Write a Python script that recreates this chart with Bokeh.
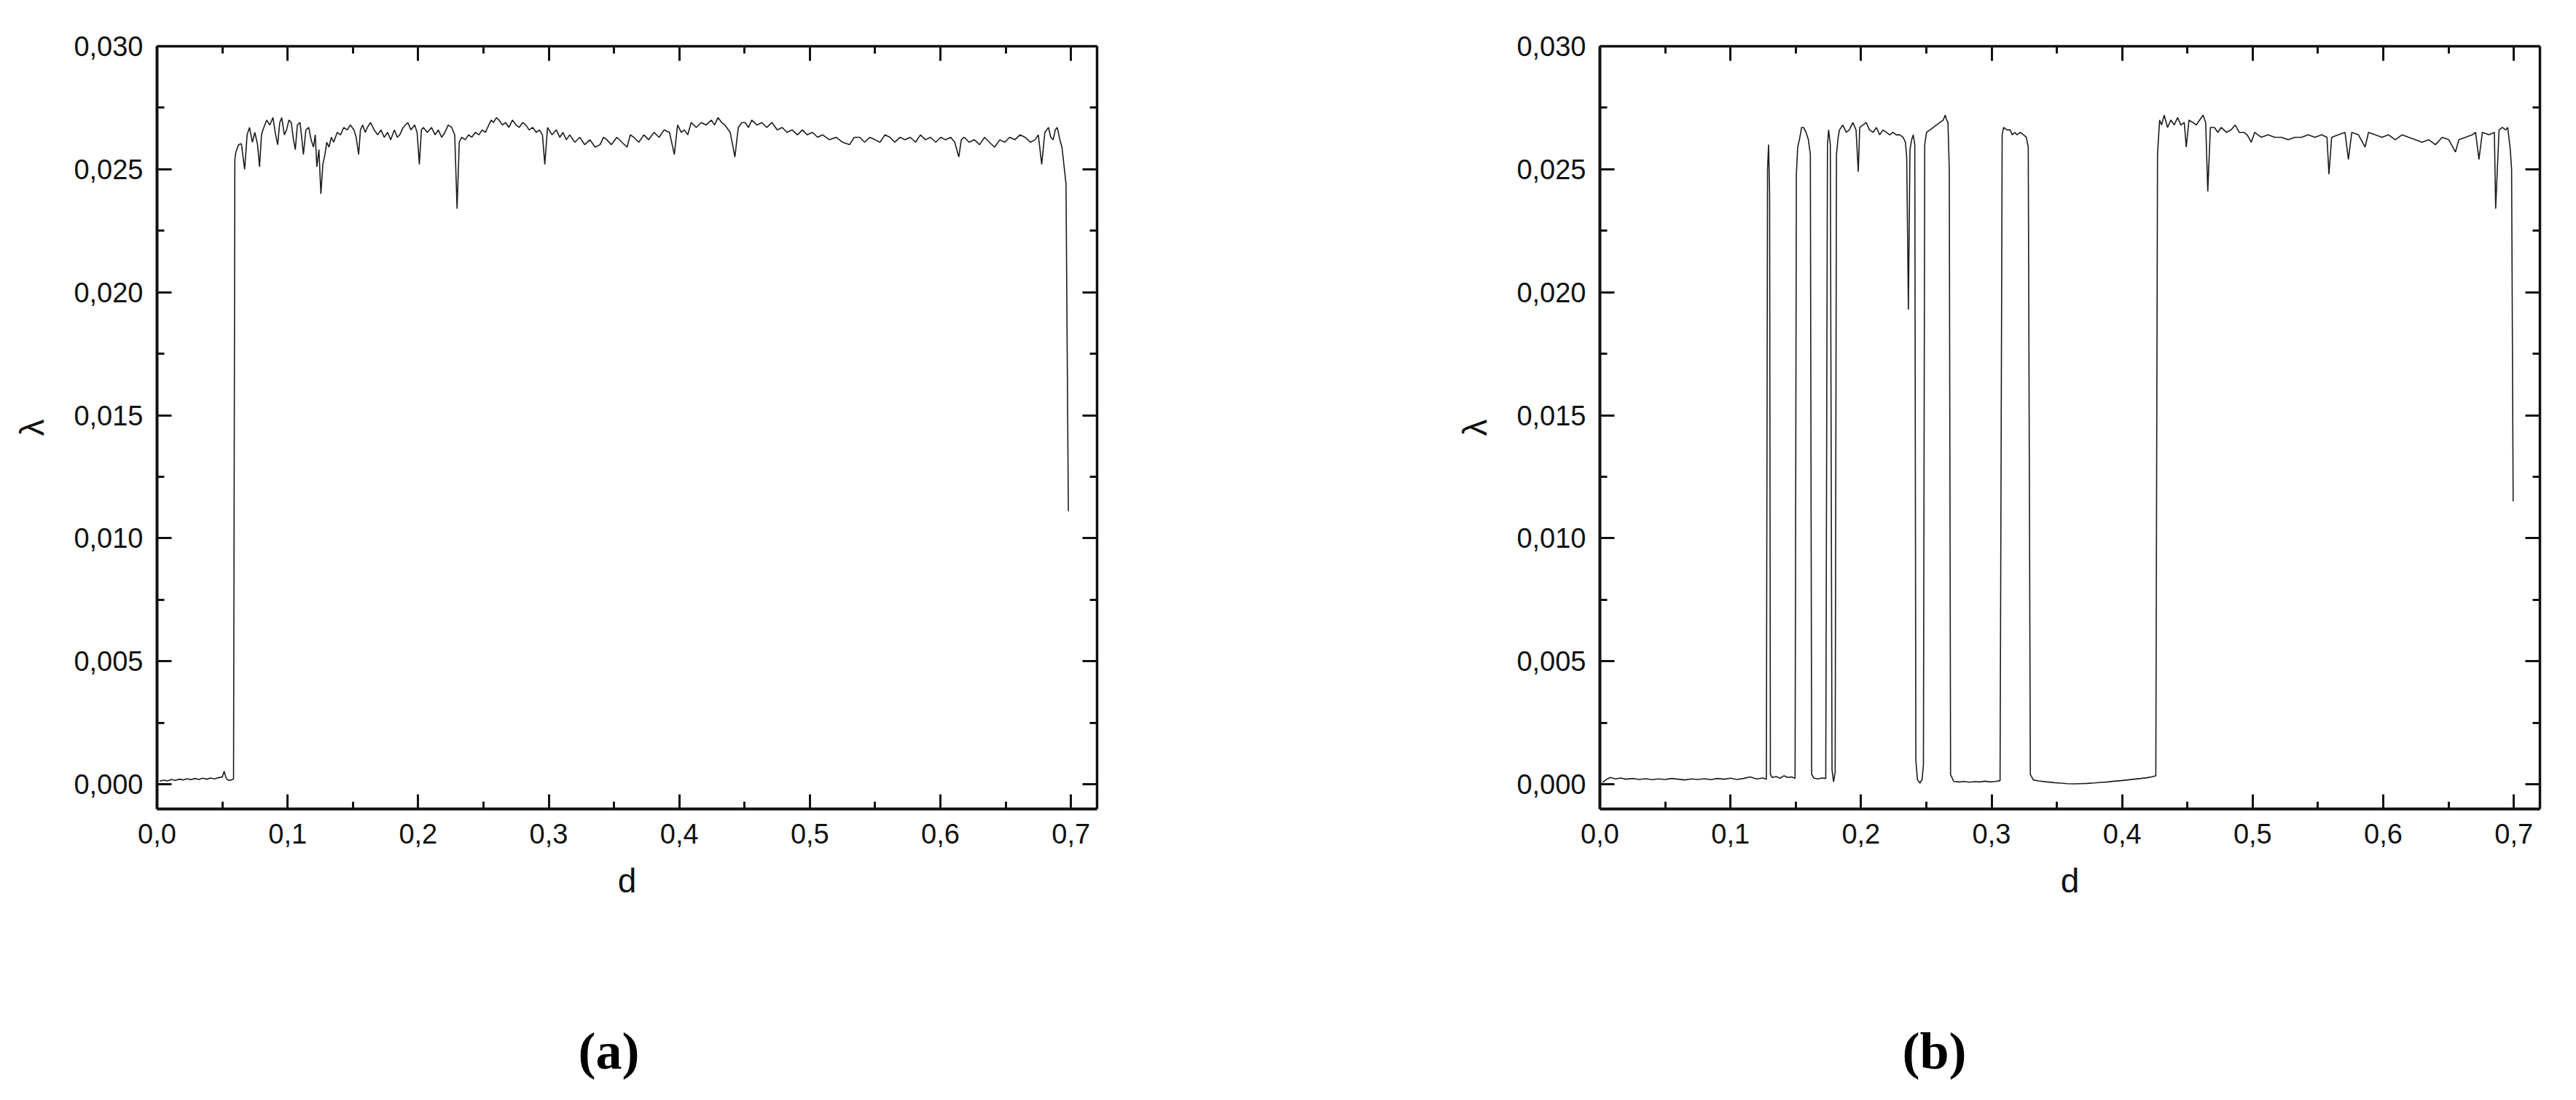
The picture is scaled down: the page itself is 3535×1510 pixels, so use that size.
from bokeh.plotting import figure
from bokeh.models import Range1d, FixedTicker, LinearAxis, Title, CustomJSTickFormatter
from bokeh.layouts import row, column
from bokeh.embed import file_html
from bokeh.resources import INLINE
from bokeh.core.validation import silence
from bokeh.core.validation.warnings import MISSING_RENDERERS

silence(MISSING_RENDERERS, True)

# ---------------- data ----------------
x_ticks = [0.0, 0.1, 0.2, 0.3, 0.4, 0.5, 0.6, 0.7]
x_tick_labels = ["0,0", "0,1", "0,2", "0,3", "0,4", "0,5", "0,6", "0,7"]
x_minor = [0.05, 0.15, 0.25, 0.35, 0.45, 0.55, 0.65]
y_ticks = [0.0, 0.005, 0.01, 0.015, 0.02, 0.025, 0.03]
y_tick_labels = ["0,000", "0,005", "0,010", "0,015", "0,020", "0,025", "0,030"]
y_minor = [0.0025, 0.0075, 0.0125, 0.0175, 0.0225, 0.0275]
x_label = "d"
y_label = "λ"
captions = ["(a)", "(b)"]

# panel (a): (d, lambda)
curve_a = [
    (0.002, 0.00013), (0.005, 0.00017), (0.008, 0.00014), (0.011, 0.00020), (0.014, 0.00016),
    (0.017, 0.00021), (0.020, 0.00018), (0.023, 0.00023), (0.026, 0.00019), (0.029, 0.00024),
    (0.032, 0.00020), (0.035, 0.00025), (0.038, 0.00021), (0.041, 0.00026), (0.044, 0.00022),
    (0.047, 0.00027), (0.050, 0.00030), (0.0514, 0.00053), (0.053, 0.00024), (0.055, 0.00016),
    (0.057, 0.00018), (0.0586, 0.00022),
    (0.0596, 0.02540), (0.0604, 0.02570), (0.0625, 0.02600), (0.0646, 0.02604), (0.0671, 0.02500),
    (0.0690, 0.02640), (0.0708, 0.02670), (0.0730, 0.02610), (0.0749, 0.02650), (0.0770, 0.02600),
    (0.0785, 0.02510), (0.0800, 0.02640), (0.0811, 0.02660), (0.0840, 0.02700), (0.0863, 0.02680),
    (0.0888, 0.02710), (0.0905, 0.02650), (0.0924, 0.02600), (0.0940, 0.02690), (0.0955, 0.02710),
    (0.0975, 0.02640), (0.0992, 0.02660), (0.1010, 0.02700), (0.1028, 0.02690), (0.1045, 0.02620),
    (0.1059, 0.02580), (0.1075, 0.02680), (0.1095, 0.02690), (0.1110, 0.02620), (0.1121, 0.02560),
    (0.1140, 0.02660), (0.1162, 0.02670), (0.1180, 0.02620), (0.1198, 0.02590), (0.1212, 0.02640),
    (0.1224, 0.02510), (0.1240, 0.02580), (0.1255, 0.02400), (0.1270, 0.02520), (0.1286, 0.02560),
    (0.1300, 0.02610), (0.1317, 0.02590), (0.1335, 0.02630), (0.1353, 0.02610), (0.1380, 0.02650),
    (0.1405, 0.02640), (0.1430, 0.02670), (0.1457, 0.02660), (0.1480, 0.02680), (0.1508, 0.02660),
    (0.1525, 0.02630), (0.1544, 0.02560), (0.1558, 0.02660), (0.1575, 0.02680), (0.1595, 0.02650),
    (0.1611, 0.02670), (0.1635, 0.02690), (0.1663, 0.02660), (0.1690, 0.02640), (0.1715, 0.02660),
    (0.1740, 0.02630), (0.1766, 0.02650), (0.1790, 0.02620), (0.1818, 0.02660), (0.1840, 0.02630),
    (0.1859, 0.02640), (0.1885, 0.02670), (0.1921, 0.02690), (0.1945, 0.02660), (0.1973, 0.02680),
    (0.1992, 0.02650), (0.2009, 0.02520), (0.2025, 0.02660), (0.2040, 0.02670), (0.2070, 0.02650),
    (0.2102, 0.02670), (0.2130, 0.02640), (0.2154, 0.02660), (0.2180, 0.02630), (0.2205, 0.02650),
    (0.2230, 0.02680), (0.2257, 0.02670), (0.2280, 0.02640), (0.2298, 0.02340), (0.2315, 0.02610),
    (0.2334, 0.02630), (0.2360, 0.02620), (0.2386, 0.02640), (0.2410, 0.02630), (0.2438, 0.02650),
    (0.2465, 0.02640), (0.2490, 0.02660), (0.2515, 0.02650), (0.2541, 0.02680), (0.2560, 0.02700),
    (0.2577, 0.02690), (0.2600, 0.02710), (0.2619, 0.02700), (0.2645, 0.02680), (0.2670, 0.02690),
    (0.2695, 0.02670), (0.2722, 0.02700), (0.2750, 0.02680), (0.2774, 0.02670), (0.2800, 0.02690),
    (0.2825, 0.02680), (0.2850, 0.02660), (0.2877, 0.02670), (0.2905, 0.02650), (0.2929, 0.02660),
    (0.2952, 0.02640), (0.2970, 0.02520), (0.2991, 0.02670), (0.3025, 0.02640), (0.3058, 0.02660),
    (0.3085, 0.02630), (0.3109, 0.02650), (0.3135, 0.02620), (0.3161, 0.02640), (0.3200, 0.02610),
    (0.3238, 0.02630), (0.3275, 0.02600), (0.3316, 0.02620), (0.3355, 0.02590), (0.3393, 0.02600),
    (0.3420, 0.02630), (0.3445, 0.02620), (0.3480, 0.02600), (0.3522, 0.02630), (0.3560, 0.02610),
    (0.3600, 0.02590), (0.3625, 0.02640), (0.3652, 0.02630), (0.3690, 0.02610), (0.3729, 0.02640),
    (0.3765, 0.02620), (0.3807, 0.02650), (0.3845, 0.02630), (0.3884, 0.02660), (0.3925, 0.02650),
    (0.3962, 0.02560), (0.3987, 0.02680), (0.4015, 0.02650), (0.4039, 0.02660), (0.4065, 0.02640),
    (0.4091, 0.02690), (0.4130, 0.02670), (0.4168, 0.02690), (0.4205, 0.02680), (0.4246, 0.02700),
    (0.4270, 0.02680), (0.4297, 0.02710), (0.4325, 0.02690), (0.4349, 0.02680), (0.4390, 0.02650),
    (0.4426, 0.02550), (0.4452, 0.02670), (0.4480, 0.02690), (0.4504, 0.02690), (0.4530, 0.02670),
    (0.4555, 0.02700), (0.4595, 0.02680), (0.4633, 0.02690), (0.4670, 0.02670), (0.4710, 0.02690),
    (0.4750, 0.02660), (0.4788, 0.02670), (0.4825, 0.02650), (0.4865, 0.02660), (0.4905, 0.02640),
    (0.4943, 0.02660), (0.4980, 0.02640), (0.5020, 0.02650), (0.5060, 0.02630), (0.5098, 0.02640),
    (0.5150, 0.02620), (0.5201, 0.02630), (0.5250, 0.02610), (0.5304, 0.02600), (0.5340, 0.02630),
    (0.5382, 0.02630), (0.5420, 0.02610), (0.5459, 0.02630), (0.5500, 0.02620), (0.5537, 0.02610),
    (0.5575, 0.02640), (0.5614, 0.02630), (0.5650, 0.02610), (0.5692, 0.02630), (0.5730, 0.02620),
    (0.5769, 0.02630), (0.5810, 0.02610), (0.5847, 0.02640), (0.5885, 0.02620), (0.5924, 0.02630),
    (0.5965, 0.02610), (0.6002, 0.02630), (0.6040, 0.02620), (0.6079, 0.02630), (0.6110, 0.02610),
    (0.6141, 0.02550), (0.6160, 0.02620), (0.6183, 0.02630), (0.6220, 0.02610), (0.6260, 0.02620),
    (0.6300, 0.02600), (0.6338, 0.02630), (0.6375, 0.02610), (0.6415, 0.02590), (0.6455, 0.02620),
    (0.6493, 0.02610), (0.6530, 0.02630), (0.6570, 0.02620), (0.6610, 0.02640), (0.6648, 0.02630),
    (0.6690, 0.02610), (0.6725, 0.02620), (0.6750, 0.02640), (0.6776, 0.02520), (0.6800, 0.02650),
    (0.6828, 0.02670), (0.6845, 0.02630), (0.6864, 0.02620), (0.6880, 0.02660), (0.6895, 0.02670),
    (0.6915, 0.02620), (0.6931, 0.02590), (0.6950, 0.02500), (0.6962, 0.02440), (0.6980, 0.01110),
]

# panel (b): (d, lambda)
curve_b = [
    (0.002, 0.00008), (0.005, 0.00020), (0.008, 0.00028), (0.012, 0.00022), (0.016, 0.00026),
    (0.020, 0.00021), (0.025, 0.00024), (0.030, 0.00020), (0.035, 0.00023), (0.040, 0.00019),
    (0.045, 0.00022), (0.050, 0.00020), (0.055, 0.00024), (0.060, 0.00021), (0.065, 0.00018),
    (0.070, 0.00022), (0.075, 0.00020), (0.080, 0.00023), (0.085, 0.00019), (0.090, 0.00024),
    (0.095, 0.00021), (0.100, 0.00025), (0.105, 0.00020), (0.110, 0.00024), (0.115, 0.00030),
    (0.120, 0.00022), (0.125, 0.00026), (0.1275, 0.00021),
    (0.1284, 0.02500), (0.1292, 0.02600), (0.1300, 0.02400), (0.1306, 0.00040), (0.1320, 0.00028),
    (0.1350, 0.00032), (0.1380, 0.00025), (0.1410, 0.00035), (0.1440, 0.00028), (0.1470, 0.00030),
    (0.1495, 0.00024),
    (0.1505, 0.02480), (0.1515, 0.02590), (0.1528, 0.02620), (0.1545, 0.02670), (0.1560, 0.02670),
    (0.1579, 0.02650), (0.1597, 0.02620), (0.1612, 0.02560), (0.1622, 0.00040), (0.1640, 0.00025),
    (0.1670, 0.00022), (0.1700, 0.00026), (0.1730, 0.00024),
    (0.1743, 0.02600), (0.1752, 0.02660), (0.1765, 0.02600), (0.1778, 0.00060), (0.1790, 0.00010),
    (0.1802, 0.00050), (0.1812, 0.02560), (0.1825, 0.02630), (0.1835, 0.02660), (0.1860, 0.02680),
    (0.1887, 0.02650), (0.1910, 0.02660), (0.1938, 0.02690), (0.1962, 0.02660), (0.1979, 0.02490),
    (0.1990, 0.02670), (0.2015, 0.02680), (0.2040, 0.02690), (0.2065, 0.02660), (0.2092, 0.02650),
    (0.2118, 0.02670), (0.2143, 0.02640), (0.2168, 0.02660), (0.2194, 0.02650), (0.2220, 0.02640),
    (0.2245, 0.02650), (0.2270, 0.02640), (0.2296, 0.02640), (0.2322, 0.02630), (0.2340, 0.02610),
    (0.2350, 0.02550), (0.2363, 0.01930), (0.2375, 0.02580), (0.2388, 0.02620), (0.2400, 0.02640),
    (0.2412, 0.02600), (0.2420, 0.00100), (0.2432, 0.00020), (0.2451, 0.00005), (0.2468, 0.00020),
    (0.2478, 0.00080),
    (0.2488, 0.02600), (0.2502, 0.02650), (0.2528, 0.02660), (0.2553, 0.02670), (0.2578, 0.02680),
    (0.2604, 0.02690), (0.2630, 0.02700), (0.2645, 0.02720), (0.2656, 0.02700), (0.2666, 0.02690),
    (0.2676, 0.02500), (0.2686, 0.00040), (0.2710, 0.00012), (0.2750, 0.00010), (0.2790, 0.00012),
    (0.2830, 0.00009), (0.2870, 0.00011), (0.2910, 0.00010), (0.2950, 0.00013), (0.2990, 0.00010),
    (0.3030, 0.00012), (0.3065, 0.00015),
    (0.3081, 0.02640), (0.3092, 0.02670), (0.3118, 0.02660), (0.3143, 0.02660), (0.3158, 0.02640),
    (0.3178, 0.02650), (0.3194, 0.02640), (0.3220, 0.02650), (0.3245, 0.02640), (0.3266, 0.02630),
    (0.3281, 0.02590), (0.3297, 0.00040), (0.3320, 0.00018), (0.3360, 0.00014), (0.3425, 0.00010),
    (0.3480, 0.00007), (0.3528, 0.00005), (0.3580, 0.00003), (0.3630, 0.00002), (0.3680, 0.00003),
    (0.3733, 0.00004), (0.3790, 0.00006), (0.3835, 0.00008), (0.3890, 0.00010), (0.3938, 0.00013),
    (0.3990, 0.00015), (0.4040, 0.00018), (0.4090, 0.00021), (0.4143, 0.00024), (0.4190, 0.00027),
    (0.4230, 0.00031), (0.4258, 0.00035),
    (0.4271, 0.02560), (0.4287, 0.02700), (0.4302, 0.02680), (0.4322, 0.02720), (0.4348, 0.02670),
    (0.4373, 0.02700), (0.4399, 0.02680), (0.4425, 0.02710), (0.4450, 0.02680), (0.4476, 0.02690),
    (0.4491, 0.02590), (0.4512, 0.02700), (0.4543, 0.02690), (0.4568, 0.02680), (0.4594, 0.02700),
    (0.4620, 0.02720), (0.4640, 0.02690), (0.4656, 0.02410), (0.4676, 0.02670), (0.4707, 0.02670),
    (0.4733, 0.02650), (0.4758, 0.02670), (0.4799, 0.02650), (0.4835, 0.02660), (0.4866, 0.02680),
    (0.4897, 0.02650), (0.4933, 0.02650), (0.4958, 0.02640), (0.4989, 0.02610), (0.5015, 0.02650),
    (0.5040, 0.02640), (0.5066, 0.02630), (0.5117, 0.02640), (0.5169, 0.02630), (0.5220, 0.02630),
    (0.5272, 0.02620), (0.5323, 0.02630), (0.5374, 0.02630), (0.5425, 0.02640), (0.5477, 0.02630),
    (0.5528, 0.02640), (0.5569, 0.02630), (0.5584, 0.02480), (0.5605, 0.02630), (0.5656, 0.02640),
    (0.5707, 0.02650), (0.5733, 0.02540), (0.5759, 0.02650), (0.5810, 0.02640), (0.5861, 0.02590),
    (0.5887, 0.02650), (0.5938, 0.02640), (0.5990, 0.02630), (0.6041, 0.02640), (0.6092, 0.02620),
    (0.6143, 0.02640), (0.6195, 0.02630), (0.6246, 0.02620), (0.6297, 0.02610), (0.6349, 0.02620),
    (0.6400, 0.02600), (0.6451, 0.02630), (0.6502, 0.02620), (0.6553, 0.02570), (0.6579, 0.02620),
    (0.6630, 0.02630), (0.6682, 0.02640), (0.6707, 0.02650), (0.6733, 0.02540), (0.6759, 0.02650),
    (0.6810, 0.02640), (0.6851, 0.02650), (0.6861, 0.02340), (0.6887, 0.02660), (0.6912, 0.02670),
    (0.6938, 0.02660), (0.6953, 0.02670), (0.6973, 0.02580), (0.6983, 0.02500), (0.6995, 0.01150),
]

d_a = [p[0] for p in curve_a]
lam_a = [p[1] for p in curve_a]
d_b = [p[0] for p in curve_b]
lam_b = [p[1] for p in curve_b]

# ---------------- styling helpers ----------------
INK = "#111111"
FONT = "Liberation Sans"


def style_axis(ax):
    ax.axis_line_width = 4
    ax.axis_line_color = INK
    ax.major_tick_in = 20
    ax.major_tick_out = 0
    ax.minor_tick_in = 10
    ax.minor_tick_out = 0
    ax.major_tick_line_width = 3
    ax.minor_tick_line_width = 3
    ax.major_tick_line_color = INK
    ax.minor_tick_line_color = INK
    ax.major_label_text_font = FONT
    ax.major_label_text_font_size = "38px"
    ax.major_label_text_color = INK
    ax.axis_label_text_font = FONT
    ax.axis_label_text_font_size = "46px"
    ax.axis_label_text_font_style = "normal"
    ax.axis_label_text_color = INK


def make_panel(xs, ys, border_left, border_right):
    p = figure(
        frame_width=1290, frame_height=1047,
        min_border_left=border_left, min_border_right=border_right,
        min_border_top=63, min_border_bottom=130,
        x_range=Range1d(0.0, 0.72), y_range=Range1d(-0.001, 0.030),
        output_backend="svg", toolbar_location=None,
        x_axis_label=x_label, y_axis_label=y_label,
    )
    p.grid.visible = False
    p.outline_line_color = None
    p.background_fill_color = "white"
    p.border_fill_color = "white"

    xa = p.xaxis[0]
    xa.ticker = FixedTicker(ticks=x_ticks, minor_ticks=x_minor)
    xa.major_label_overrides = dict(zip(x_ticks, x_tick_labels))
    style_axis(xa)
    xa.major_label_standoff = 20
    xa.axis_label_standoff = 22

    ya = p.yaxis[0]
    ya.ticker = FixedTicker(ticks=y_ticks, minor_ticks=y_minor)
    ya.major_label_overrides = dict(zip(y_ticks, y_tick_labels))
    style_axis(ya)
    ya.major_label_standoff = 19
    ya.axis_label_standoff = 28

    blank = "return ''"
    top = LinearAxis(ticker=FixedTicker(ticks=x_ticks, minor_ticks=x_minor),
                     formatter=CustomJSTickFormatter(code=blank))
    style_axis(top)
    top.axis_line_width = 3.5
    top.major_label_standoff = 0
    p.add_layout(top, "above")

    right = LinearAxis(ticker=FixedTicker(ticks=y_ticks, minor_ticks=y_minor),
                       formatter=CustomJSTickFormatter(code=blank))
    style_axis(right)
    right.axis_line_width = 3.5
    right.major_label_standoff = 0
    p.add_layout(right, "right")

    p.line(xs, ys, line_color="#1c1c1c", line_width=1.6)
    return p


def make_caption(text, offset, border_left, border_right):
    c = figure(
        frame_width=1290, frame_height=5,
        min_border_left=border_left, min_border_right=border_right,
        min_border_top=242, min_border_bottom=5,
        x_axis_location=None, y_axis_location=None,
        output_backend="svg", toolbar_location=None,
    )
    c.grid.visible = False
    c.outline_line_color = None
    c.background_fill_color = "white"
    c.border_fill_color = "white"
    c.add_layout(Title(text=text, align="left", offset=offset, standoff=0,
                       vertical_align="bottom",
                       text_font="Liberation Serif", text_font_style="bold",
                       text_font_size="72px", text_color="black"), "above")
    return c


p1 = make_panel(d_a, lam_a, 215, 255)
c1 = make_caption(captions[0], 578, 215, 255)
p2 = make_panel(d_b, lam_b, 435, 20)
c2 = make_caption(captions[1], 415, 435, 20)

layout = row(column(p1, c1), column(p2, c2))
open("out.html", "w").write(file_html(layout, INLINE))
